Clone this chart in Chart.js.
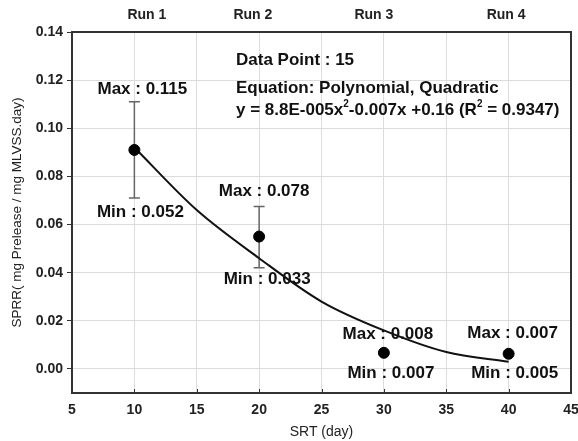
<!DOCTYPE html>
<html lang="en">
<head>
    <meta charset="UTF-8">
    <title>SPRR vs SRT</title>
    <style>
        body { margin: 0; background: #fff; }
        #sprrChart { display: block; }
    </style>
    <script src="https://cdn.jsdelivr.net/npm/chart.js"></script>
</head>
<body>
    <canvas id="sprrChart" width="578" height="441"></canvas>

    <script>
        // data
        const srt = [10, 20, 30, 40];
        const sprr = [0.091, 0.055, 0.0067, 0.0063];
        const barLow = [0.071, 0.042, null, null];
        const barHigh = [0.111, 0.0675, null, null];
        const maxLabels = ['0.115', '0.078', '0.008', '0.007'];
        const minLabels = ['0.052', '0.033', '0.007', '0.005'];
        const fitX = [10, 15, 20, 25, 30, 35, 40];
        const fitY = [0.092, 0.066, 0.046, 0.028, 0.016, 0.007, 0.003];
        const runLabels = ['Run 1', 'Run 2', 'Run 3', 'Run 4'];
        const infoLines = ['Data Point : 15', 'Equation: Polynomial, Quadratic'];

        const FONT = '"Liberation Sans", Arial, sans-serif';
        Chart.defaults.font.family = FONT;
        Chart.defaults.color = '#222';

        // where the Run labels sit on the top axis
        const runTickPos = [11, 19.5, 29.2, 39.8];

        // error bars
        const errorBars = {
            id: 'errorBars',
            beforeDatasetsDraw(chart) {
                const { ctx, scales: { x, y } } = chart;
                ctx.save();
                ctx.strokeStyle = '#666';
                ctx.lineWidth = 1.5;
                srt.forEach((v, i) => {
                    if (barLow[i] == null) return;
                    const px = x.getPixelForValue(v);
                    const yl = y.getPixelForValue(barLow[i]);
                    const yh = y.getPixelForValue(barHigh[i]);
                    ctx.beginPath();
                    ctx.moveTo(px, yl); ctx.lineTo(px, yh);
                    ctx.moveTo(px - 5.5, yl); ctx.lineTo(px + 5.5, yl);
                    ctx.moveTo(px - 5.5, yh); ctx.lineTo(px + 5.5, yh);
                    ctx.stroke();
                });
                ctx.restore();
            }
        };

        // max / min labels, equation text, frame
        const maxOff = [[8, -61], [5, -45], [4, -18], [4, -20]];
        const minOff = [[6, 62], [8, 43], [7, 21], [6, 20]];

        const annotations = {
            id: 'annotations',
            afterDraw(chart) {
                const { ctx, chartArea: a, scales: { x, y } } = chart;
                ctx.save();

                // short inward ticks on the bottom axis
                ctx.strokeStyle = '#333';
                ctx.lineWidth = 1;
                x.ticks.forEach(t => {
                    const px = Math.round(x.getPixelForValue(t.value)) + 0.5;
                    ctx.beginPath();
                    ctx.moveTo(px, a.bottom);
                    ctx.lineTo(px, a.bottom - 4);
                    ctx.stroke();
                });

                ctx.fillStyle = '#111';
                ctx.font = 'bold 17px ' + FONT;
                ctx.textAlign = 'center';
                ctx.textBaseline = 'middle';
                srt.forEach((v, i) => {
                    const px = x.getPixelForValue(v);
                    const py = y.getPixelForValue(sprr[i]);
                    ctx.fillText('Max : ' + maxLabels[i], px + maxOff[i][0], py + maxOff[i][1]);
                    ctx.fillText('Min : ' + minLabels[i], px + minOff[i][0], py + minOff[i][1]);
                });

                ctx.textAlign = 'left';
                const tx = a.left + 164;
                ctx.fillText(infoLines[0], tx, 60);
                ctx.fillText(infoLines[1], tx, 88);

                // equation with superscripts
                const parts = [
                    ['y = 8.8E-005x', false], ['2', true], ['-0.007x +0.16 (R', false],
                    ['2', true], [' = 0.9347)', false]
                ];
                let cx = tx;
                parts.forEach(([t, sup]) => {
                    ctx.font = (sup ? 'bold 10px ' : 'bold 17px ') + FONT;
                    ctx.fillText(t, cx, sup ? 104 : 110);
                    cx += ctx.measureText(t).width;
                });

                ctx.strokeStyle = '#333';
                ctx.lineWidth = 2;
                ctx.strokeRect(a.left, a.top, a.right - a.left, a.bottom - a.top);
                ctx.restore();
            }
        };

        new Chart(document.getElementById('sprrChart'), {
            type: 'scatter',
            data: {
                datasets: [
                    {
                        label: 'Fit',
                        data: fitX.map((v, i) => ({ x: v, y: fitY[i] })),
                        showLine: true,
                        borderColor: '#111',
                        borderWidth: 2,
                        pointRadius: 0,
                        cubicInterpolationMode: 'monotone',
                        order: 2
                    },
                    {
                        label: 'SPRR',
                        data: srt.map((v, i) => ({ x: v, y: sprr[i] })),
                        backgroundColor: '#000',
                        borderColor: '#000',
                        pointRadius: 5.5,
                        order: 1
                    }
                ]
            },
            options: {
                responsive: false,
                animation: false,
                layout: { padding: { left: 5, right: 7, top: 0, bottom: 0 } },
                plugins: {
                    legend: { display: false },
                    tooltip: { enabled: false }
                },
                scales: {
                    x: {
                        type: 'linear',
                        position: 'bottom',
                        min: 5,
                        max: 45,
                        ticks: { stepSize: 5, padding: 9, font: { size: 14, weight: 'bold' } },
                        grid: { color: '#dcdcdc', drawTicks: false },
                        border: { display: false },
                        title: {
                            display: true,
                            text: 'SRT (day)',
                            font: { size: 14 },
                            padding: { top: 4, bottom: 0 }
                        },
                        afterFit(s) { s.height = 48; s.paddingLeft = 0; s.paddingRight = 0; }
                    },
                    x2: {
                        type: 'linear',
                        position: 'top',
                        min: 5,
                        max: 45,
                        afterBuildTicks(s) { s.ticks = runTickPos.map(v => ({ value: v })); },
                        ticks: {
                            padding: 8,
                            font: { size: 14, weight: 'bold' },
                            callback: (v, i) => runLabels[i]
                        },
                        grid: { display: false, drawTicks: false },
                        border: { display: false },
                        afterFit(s) { s.height = 32; s.paddingLeft = 0; s.paddingRight = 0; }
                    },
                    y: {
                        min: -0.01,
                        max: 0.14,
                        ticks: {
                            stepSize: 0.02,
                            padding: 4,
                            font: { size: 14, weight: 'bold' },
                            callback: v => v < -0.005 ? '' : v.toFixed(2)
                        },
                        grid: {
                            color: '#dcdcdc',
                            tickColor: c => (c.tick && c.tick.value < -0.005) ? 'rgba(0,0,0,0)' : '#333',
                            tickLength: 5
                        },
                        border: { display: false },
                        title: {
                            display: true,
                            text: 'SPRR( mg Prelease / mg MLVSS.day)',
                            font: { size: 13.5 },
                            padding: { top: 4, bottom: 0 }
                        },
                        afterFit(s) { s.width = 67; }
                    }
                }
            },
            plugins: [errorBars, annotations]
        });
    </script>
</body>
</html>
